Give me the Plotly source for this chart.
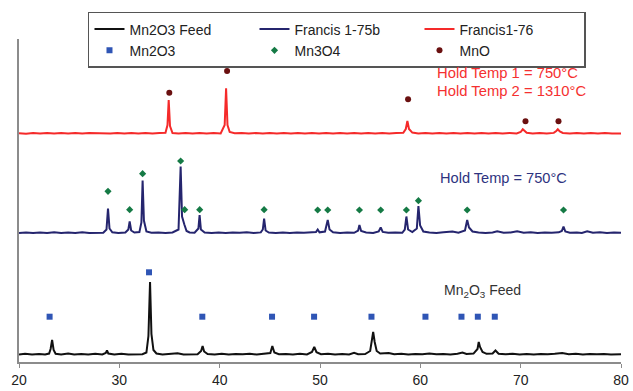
import plotly.graph_objects as go

# ---------------- data (2-theta, intensity above each pattern's own baseline) ----------------
feed_x = [20.0, 20.6, 21.3, 22.0, 22.6, 23.0, 23.15, 23.3, 23.45, 23.65, 24.2, 24.9, 25.5, 26.2, 26.9,
          27.6, 28.3, 28.65, 28.77, 28.9, 29.5, 30.2, 30.9, 31.6, 32.3, 32.7, 32.9, 33.06, 33.2, 33.4,
          33.7, 34.3, 35.0, 35.8, 36.4, 37.1, 37.8, 38.15, 38.3, 38.45, 38.8, 39.5, 40.2, 40.9, 41.6,
          42.3, 43.0, 43.7, 44.4, 45.05, 45.25, 45.45, 45.9, 46.6, 47.3, 48.0, 48.7, 49.2, 49.43, 49.65,
          50.1, 50.8, 51.5, 52.2, 52.9, 53.4, 53.8, 54.5, 55.0, 55.2, 55.3, 55.45, 55.65, 56.0, 56.85,
          57.4, 58.1, 58.8, 59.5, 60.2, 60.9, 61.6, 62.3, 63.0, 63.7, 64.2, 64.6, 65.3, 65.7, 65.82,
          65.95, 66.2, 66.6, 67.2, 67.49, 67.8, 68.5, 69.2, 69.9, 70.6, 71.3, 72.0, 72.7, 73.4, 74.14,
          74.8, 75.5, 76.2, 76.9, 77.6, 78.3, 79.0, 79.6, 80.0]
feed_y = [1.5, 2.2, 1.4, 2.0, 1.6, 2.4, 7.0, 16.0, 6.0, 2.2, 1.5, 2.6, 1.4, 2.0, 1.5,
          2.2, 1.6, 3.0, 5.5, 2.5, 1.6, 2.3, 1.5, 2.0, 1.8, 3.5, 20.0, 74.0, 22.0, 6.0,
          2.5, 1.6, 2.2, 2.8, 1.5, 2.0, 1.8, 5.0, 10.0, 4.5, 2.0, 1.6, 2.2, 1.4, 2.0,
          1.7, 2.3, 1.5, 2.0, 3.0, 10.0, 3.5, 1.8, 2.1, 1.5, 2.2, 1.6, 4.0, 9.0, 3.8,
          1.8, 2.2, 1.6, 2.1, 1.5, 3.2, 1.8, 2.0, 5.0, 18.0, 24.0, 14.0, 5.0, 2.5, 3.0,
          1.8, 2.2, 1.6, 2.1, 1.8, 2.6, 1.7, 2.1, 1.6, 2.2, 3.5, 2.0, 2.4, 7.0, 14.0,
          9.0, 4.0, 2.2, 2.5, 5.5, 2.3, 1.8, 2.2, 1.6, 2.0, 1.5, 2.1, 1.7, 2.2, 3.0,
          1.8, 2.2, 1.5, 2.0, 1.7, 2.1, 1.5, 2.0, 1.7]

f75b_x = [20.0, 20.7, 21.4, 22.1, 22.8, 23.5, 24.2, 24.9, 25.6, 26.3, 27.0, 27.7, 28.4, 28.72, 28.87,
          29.02, 29.3, 29.9, 30.6, 30.9, 31.03, 31.18, 31.5, 32.0, 32.2, 32.32, 32.45, 32.7, 33.2, 33.9,
          34.6, 35.3, 35.9, 36.11, 36.25, 36.48, 36.7, 37.0, 37.5, 37.88, 38.0, 38.13, 38.5, 39.2, 39.9,
          40.6, 41.3, 42.0, 42.7, 43.4, 44.1, 44.3, 44.43, 44.58, 44.9, 45.6, 46.3, 47.0, 47.7, 48.4,
          49.1, 49.6, 49.77, 49.95, 50.5, 50.77, 50.95, 51.3, 52.0, 52.7, 53.4, 53.8, 53.93, 54.1, 54.6,
          55.3, 55.85, 56.05, 56.25, 56.8, 57.5, 58.2, 58.45, 58.61, 58.78, 59.2, 59.65, 59.81, 59.98, 60.3,
          60.9, 61.6, 62.3, 63.2, 63.8, 64.45, 64.67, 64.85, 65.2, 65.8, 66.5, 67.2, 67.66, 68.3, 69.0,
          69.65, 70.3, 71.0, 71.7, 72.4, 73.1, 73.8, 74.1, 74.27, 74.45, 74.9, 75.6, 76.1, 76.63, 77.2,
          77.9, 78.6, 79.3, 80.0]
f75b_y = [1.5, 2.0, 1.4, 2.1, 1.6, 2.2, 1.5, 2.0, 1.6, 2.3, 1.5, 2.0, 1.8, 5.0, 26.0,
          6.0, 2.2, 1.6, 2.0, 5.0, 13.0, 4.0, 2.0, 2.4, 12.0, 54.0, 14.0, 3.0, 1.8, 2.1,
          1.5, 2.0, 5.0, 68.0, 18.0, 10.0, 3.5, 2.0, 1.8, 6.0, 19.5, 5.0, 2.0, 1.6, 2.1,
          1.5, 2.0, 1.7, 2.2, 1.6, 2.1, 5.0, 16.0, 4.0, 2.0, 1.6, 2.1, 1.5, 2.0, 1.7,
          2.2, 2.5, 5.0, 2.2, 3.0, 14.5, 5.0, 2.2, 1.6, 2.1, 1.7, 4.0, 9.5, 3.5, 2.0,
          1.6, 3.0, 7.0, 2.6, 1.8, 2.1, 1.7, 5.0, 18.0, 5.0, 2.5, 6.0, 28.5, 9.0, 3.0,
          2.0, 1.6, 2.2, 3.0, 1.8, 4.0, 14.5, 7.0, 3.0, 2.0, 1.6, 2.0, 3.2, 1.7, 2.1,
          3.2, 1.8, 2.2, 1.6, 2.1, 1.7, 2.2, 3.5, 8.0, 3.0, 1.8, 2.1, 1.6, 3.2, 1.8,
          2.2, 1.6, 2.1, 1.7]

f76_x = [20.0, 20.7, 21.4, 22.1, 22.8, 23.5, 24.2, 24.9, 25.6, 26.3, 27.0, 27.7, 28.4, 29.1, 29.8,
         30.5, 31.2, 31.9, 32.6, 33.3, 34.0, 34.6, 34.8, 34.92, 35.05, 35.3, 35.9, 36.6, 37.3, 38.0,
         38.7, 39.4, 40.1, 40.5, 40.64, 40.78, 41.0, 41.5, 42.2, 42.9, 43.6, 44.3, 45.0, 45.7, 46.4,
         47.1, 47.8, 48.5, 49.2, 49.9, 50.6, 51.3, 52.0, 52.7, 53.4, 54.1, 54.8, 55.5, 56.2, 56.9,
         57.6, 58.3, 58.55, 58.71, 58.87, 59.2, 59.8, 60.5, 61.2, 61.9, 62.6, 63.3, 64.0, 64.7, 65.4,
         66.1, 66.8, 67.5, 68.2, 68.9, 69.6, 70.0, 70.21, 70.4, 70.6, 71.2, 71.9, 72.6, 73.3, 73.55,
         73.7, 73.9, 74.2, 74.9, 75.6, 76.3, 77.0, 77.7, 78.4, 79.1, 79.8, 80.0]
f76_y = [1.8, 1.3, 2.0, 1.5, 2.1, 1.4, 1.9, 1.5, 2.1, 1.4, 1.9, 1.6, 2.0, 1.4, 1.9,
         1.5, 2.1, 1.5, 1.9, 1.4, 2.0, 2.2, 10.0, 35.0, 9.0, 2.0, 1.5, 2.0, 1.4, 1.9,
         1.5, 2.1, 1.6, 10.0, 46.7, 10.0, 3.0, 1.7, 2.0, 1.4, 1.9, 1.5, 2.1, 1.4, 1.9,
         1.5, 2.0, 1.4, 1.9, 1.5, 2.1, 1.4, 1.9, 1.5, 2.0, 1.4, 1.9, 1.5, 2.0, 1.5,
         1.9, 2.2, 6.0, 14.0, 6.0, 2.4, 1.6, 2.0, 1.4, 1.9, 1.5, 2.0, 1.4, 1.9, 1.5,
         2.0, 1.4, 1.9, 1.5, 2.0, 1.6, 3.0, 5.7, 4.0, 2.2, 1.6, 2.0, 1.5, 2.1, 4.0,
         5.7, 3.5, 2.0, 1.5, 2.0, 1.4, 1.9, 1.5, 2.0, 1.4, 1.9, 1.6]

# reference-phase marker positions (2-theta) and the height at which they are drawn
mn2o3_x = [23.05, 32.96, 38.27, 45.22, 49.41, 55.13, 60.51, 64.10, 65.73, 67.42]
mn2o3_y = [45.3, 89.7, 45.3, 45.3, 45.3, 45.3, 45.3, 45.3, 45.3, 45.3]
mn3o4_x = [28.87, 31.03, 32.32, 36.11, 36.51, 38.01, 44.43, 49.77, 50.77, 53.93, 56.05, 58.61, 59.81, 64.67, 74.27]
mn3o4_y = [170.7, 152.3, 188.3, 201.0, 152.3, 152.3, 152.3, 152.0, 152.0, 152.0, 152.0, 152.0, 161.3, 152.0, 152.0]
mno_x = [34.98, 40.74, 58.78, 70.48, 73.77]
mno_y = [269.3, 291.0, 262.7, 240.7, 240.7]

x_ticks = [20, 30, 40, 50, 60, 70, 80]

# vertical stacking offsets of the three patterns
OFF_FEED, OFF_75B, OFF_76 = 6.0, 127.5, 227.0

FONT = "Liberation Sans, Arial, sans-serif"

fig = go.Figure()
fig.add_trace(go.Scatter(x=feed_x, y=[v + OFF_FEED for v in feed_y], mode="lines",
                         name="Mn2O3 Feed", line=dict(color="#111111", width=2)))
fig.add_trace(go.Scatter(x=f75b_x, y=[v + OFF_75B for v in f75b_y], mode="lines",
                         name="Francis 1-75b", line=dict(color="#25256e", width=2)))
fig.add_trace(go.Scatter(x=f76_x, y=[v + OFF_76 for v in f76_y], mode="lines",
                         name="Francis1-76", line=dict(color="#f52a2a", width=2)))
fig.add_trace(go.Scatter(x=mn2o3_x, y=mn2o3_y, mode="markers", name="Mn2O3",
                         marker=dict(symbol="square", size=6, color="#2f55b5")))
fig.add_trace(go.Scatter(x=mn3o4_x, y=mn3o4_y, mode="markers", name="Mn3O4",
                         marker=dict(symbol="diamond", size=5.5, color="#157a45")))
fig.add_trace(go.Scatter(x=mno_x, y=mno_y, mode="markers", name="MnO",
                         marker=dict(symbol="circle", size=6, color="#6a1010")))

fig.add_annotation(x=61.5, y=289.3, text="Hold Temp 1 = 750°C", showarrow=False,
                   xanchor="left", yanchor="middle", font=dict(family=FONT, size=14.8, color="#f53030"))
fig.add_annotation(x=61.5, y=271.3, text="Hold Temp 2 = 1310°C", showarrow=False,
                   xanchor="left", yanchor="middle", font=dict(family=FONT, size=14.8, color="#f53030"))
fig.add_annotation(x=61.8, y=183.7, text="Hold Temp = 750°C", showarrow=False,
                   xanchor="left", yanchor="middle", font=dict(family=FONT, size=14.6, color="#2e3380"))
fig.add_annotation(x=62.2, y=71.3, text="Mn<sub>2</sub>O<sub>3</sub> Feed", showarrow=False,
                   xanchor="left", yanchor="middle", font=dict(family=FONT, size=14, color="#333333"))

fig.update_layout(
    width=633, height=391,
    margin=dict(l=19, r=12, t=39, b=29, pad=0, autoexpand=False),
    paper_bgcolor="white", plot_bgcolor="white",
    font=dict(family=FONT, size=14, color="#222222"),
    showlegend=True,
    legend=dict(orientation="h", x=0.1146, y=1.0836, xanchor="left", yanchor="top",
                entrywidth=120, entrywidthmode="pixels", itemwidth=30,
                bordercolor="#555555", borderwidth=1.5, bgcolor="white",
                font=dict(family=FONT, size=14, color="#222222"), tracegroupgap=0),
    xaxis=dict(range=[20, 80], tickvals=x_ticks, ticktext=[str(t) for t in x_ticks],
               showgrid=False, zeroline=False, showline=True, linecolor="#8c8c8c", linewidth=1.5,
               ticks="outside", ticklen=4, tickcolor="#8c8c8c", tickwidth=1.2,
               tickfont=dict(family=FONT, size=14, color="#222222")),
    yaxis=dict(range=[0, 323], showgrid=False, zeroline=False, showline=True,
               linecolor="#8c8c8c", linewidth=1.5, showticklabels=False, ticks=""),
)

fig.write_html("out.html", config={"displayModeBar": False},
               post_script="document.body.style.margin='0';document.body.style.padding='0';")
